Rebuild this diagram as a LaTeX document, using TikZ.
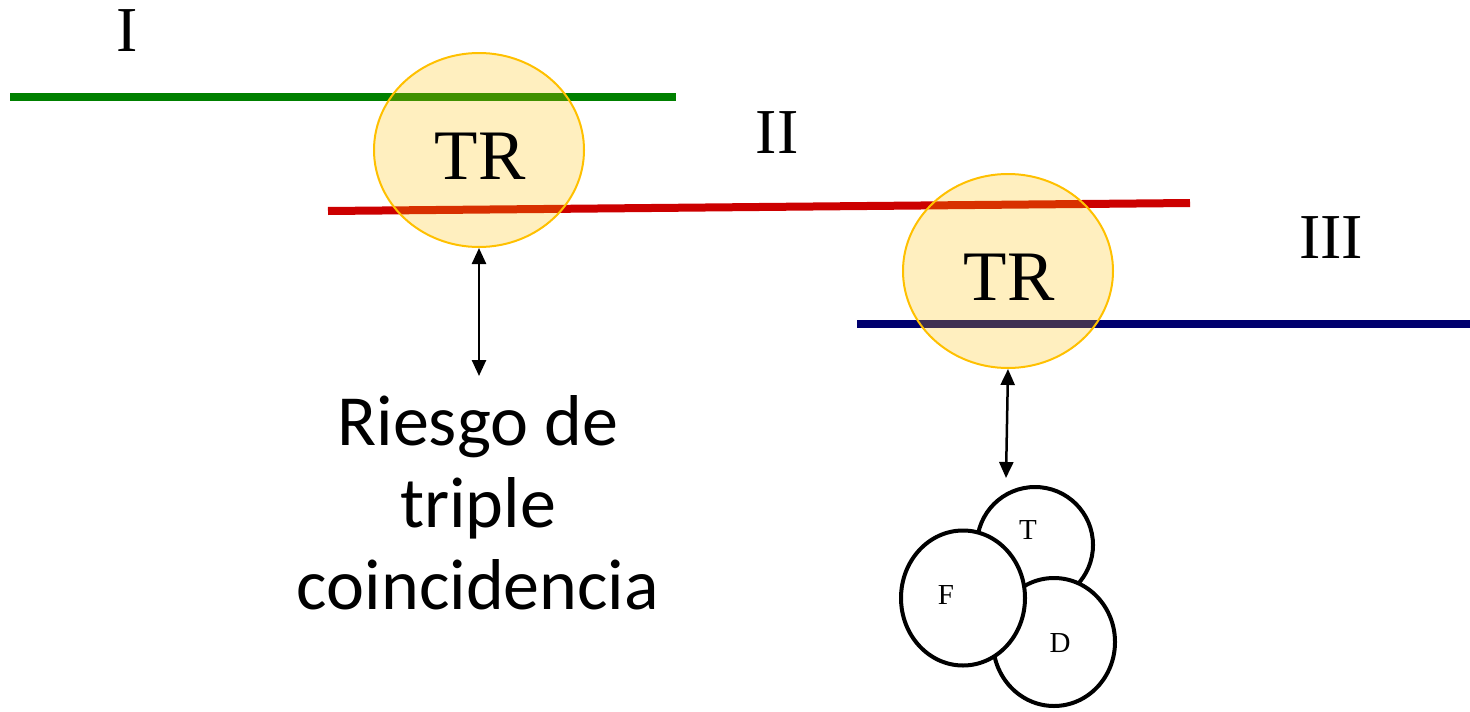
\documentclass[tikz,border=0pt]{standalone}
\usepackage{fontspec}
\setmainfont{Liberation Serif}
\newfontfamily\calibrifont{Carlito}
\usetikzlibrary{arrows.meta,shapes.geometric}
\definecolor{lgreen}{RGB}{0,128,0}
\definecolor{lred}{RGB}{204,0,0}
\definecolor{lnavy}{RGB}{0,0,110}
\definecolor{gold}{RGB}{255,192,0}
\begin{document}
\begin{tikzpicture}[x=1pt,y=-1pt,
  band/.style={line width=8pt},
  trcircle/.style={ellipse, minimum width=210pt, minimum height=194pt, draw=gold, line width=2pt, fill=gold, fill opacity=0.25, draw opacity=1, inner sep=0pt},
  trtext/.style={inner sep=0pt, font=\fontsize{71}{80}\selectfont},
  numeral/.style={inner sep=0pt, font=\fontsize{64}{72}\selectfont},
  riesgo/.style={inner sep=0pt, anchor=base, font=\calibrifont\fontsize{72}{82}\selectfont},
  dbl/.style={{Triangle[length=16pt,width=14pt]}-{Triangle[length=16pt,width=14pt]}, line width=2.5pt, black},
  venn/.style={ellipse, draw=black, line width=4pt, fill=white, inner sep=0pt},
  vennletter/.style={inner sep=0pt, font=\fontsize{29}{32}\selectfont}
]
\useasboundingbox (0,0) rectangle (1470,712);
% lines
\coordinate (g1) at (10,97);
\coordinate (g2) at (676,97);
\coordinate (r1) at (328,211);
\coordinate (r2) at (1190,203);
\coordinate (n1) at (857,324);
\coordinate (n2) at (1470,324);
\draw[band, lgreen] (g1) -- (g2);
\draw[band, lred] (r1) -- (r2);
\draw[band, lnavy] (n1) -- (n2);
% labels
\node[numeral] (lI) at (127,31) {I};
\node[numeral] (lII) at (777,133) {II};
\node[numeral] (lIII) at (1331,238) {III};
% TR circles
\node[trcircle] (c1) at (479,150) {};
\node[trcircle] (c2) at (1008,271) {};
\node[trtext] (tr1) at (480,156) {TR};
\node[trtext] (tr2) at (1009,277) {TR};
% arrows
\coordinate (a1) at (479,376);
\coordinate (a2) at (1006,478);
\draw[dbl] (c1.south) -- (a1);
\draw[dbl] (c2.south) -- (a2);
% text
\node[riesgo] (t1) at (478,445) {Riesgo de};
\node[riesgo] (t2) at (478,527) {triple};
\node[riesgo] (t3) at (478,609) {coincidencia};
% Venn-like circles
\node[venn, minimum width=116pt, minimum height=116pt] (vT) at (1035,545) {};
\node[venn, minimum width=122pt, minimum height=128pt] (vD) at (1054,642) {};
\node[venn, minimum width=124pt, minimum height=135pt] (vF) at (963,598) {};
\node[vennletter] (lT) at (1028,530) {T};
\node[vennletter] (lF) at (946,595) {F};
\node[vennletter] (lD) at (1060,643) {D};
\end{tikzpicture}
\end{document}
